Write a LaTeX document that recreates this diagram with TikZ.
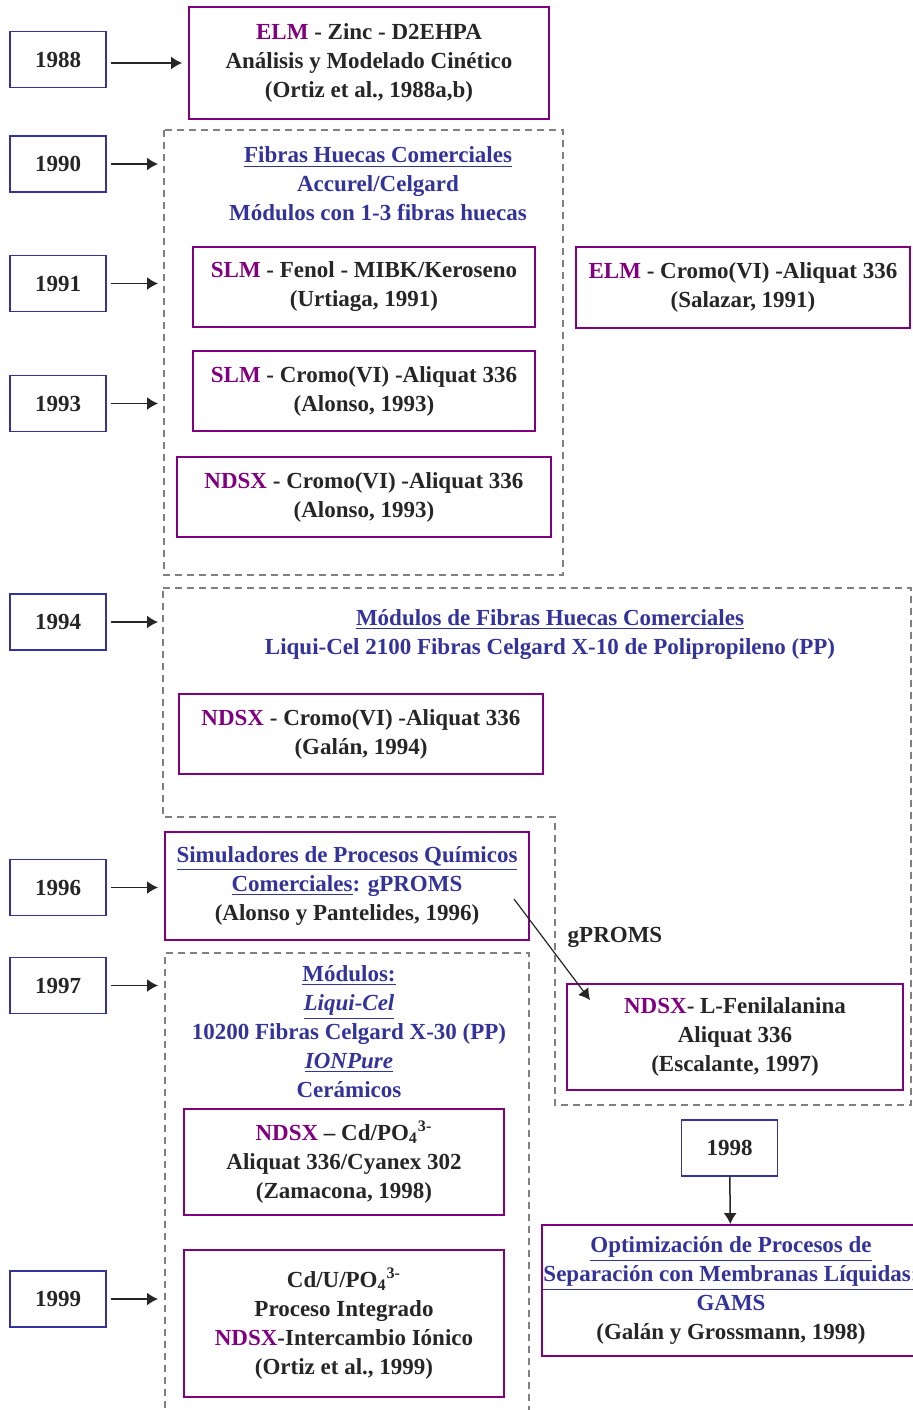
\documentclass[tikz,border=0pt]{standalone}
\usepackage{fontspec}
\setmainfont{Liberation Serif}
\usetikzlibrary{arrows.meta}
\definecolor{yearblue}{RGB}{51,51,153}
\definecolor{elmpurple}{RGB}{128,0,128}
\definecolor{darktext}{RGB}{38,38,38}
\definecolor{dashgray}{RGB}{128,128,128}
\newcommand{\tech}[1]{\textcolor{elmpurple}{#1}}

\begin{document}
\begin{tikzpicture}[x=0.5pt,y=-0.5pt,
    every node/.style={font=\bfseries\fontsize{11.5}{14.5}\selectfont,text=darktext,align=center},
    year/.style={draw=yearblue,line width=0.9pt,minimum width=48pt,minimum height=28pt,inner sep=0pt},
    work/.style={draw=elmpurple,line width=0.9pt,inner sep=0pt},
    note/.style={text=yearblue},
    group/.style={draw=dashgray,line width=0.7pt,dash pattern=on 3.5pt off 2.5pt},
    link/.style={draw=darktext,line width=0.75pt,-{Latex[length=5.5pt,width=6.5pt]},shorten <=2pt}]
    \useasboundingbox (0,0) rectangle (912,1410);
    \draw[group] (164,130) rectangle (563,575);
    \draw[group] (163,588) -- (911,588) -- (911,1105) -- (555,1105)
      -- (555,817) -- (163,817) -- cycle;
    \draw[group] (165,1420) -- (165,953) -- (529,953) -- (529,1420);
    \node[year] (y88) at (58,59.5) {1988};
    \node[year] (y90) at (58,164) {1990};
    \node[year] (y91) at (58,283.5) {1991};
    \node[year] (y93) at (58,403.5) {1993};
    \node[year] (y94) at (58,622) {1994};
    \node[year] (y96) at (58,887.5) {1996};
    \node[year] (y97) at (58,985.5) {1997};
    \node[year] (y99) at (58,1299) {1999};
    \node[year] (y98) at (729.5,1148) {1998};
    \node[work,minimum width=180pt,minimum height=56pt] (elmzinc) at (369,63)
      {\tech{ELM} - Zinc - D2EHPA\\Análisis y Modelado Cinético\\(Ortiz et al., 1988a,b)};
    \node[note] (fibras) at (378,184)
      {\underline{Fibras Huecas Comerciales}\\Accurel/Celgard\\Módulos con 1-3 fibras huecas};
    \node[work,minimum width=171pt,minimum height=40pt] (slmfenol) at (364,287)
      {\tech{SLM} - Fenol - MIBK/Keroseno\\(Urtiaga, 1991)};
    \node[work,minimum width=167pt,minimum height=40.5pt] (elmcromo) at (743,287.5)
      {\tech{ELM} - Cromo(VI) -Aliquat 336\\(Salazar, 1991)};
    \node[work,minimum width=171pt,minimum height=40pt] (slmcromo) at (364,391)
      {\tech{SLM} - Cromo(VI) -Aliquat 336\\(Alonso, 1993)};
    \node[work,minimum width=187pt,minimum height=40pt] (ndsxalonso) at (364,497)
      {\tech{NDSX} - Cromo(VI) -Aliquat 336\\(Alonso, 1993)};
    \node[note] (modfibras) at (550,634.5)
      {\underline{Módulos de Fibras Huecas Comerciales}\\Liqui-Cel 2100 Fibras Celgard X-10 de Polipropileno (PP)};
    \node[work,minimum width=182pt,minimum height=40pt] (ndsxgalan) at (361,734)
      {\tech{NDSX} - Cromo(VI) -Aliquat 336\\(Galán, 1994)};
    \node[work,minimum width=182pt,minimum height=54pt] (simul) at (347,886)
      {\textcolor{yearblue}{\underline{Simuladores de Procesos Químicos}}\\
       \textcolor{yearblue}{\underline{Comerciales}: gPROMS}\\(Alonso y Pantelides, 1996)};
    \node (gproms) at (615,937) {gPROMS};
    \node[work,minimum width=168pt,minimum height=53pt] (ndsxfenil) at (735,1037)
      {\tech{NDSX}- L-Fenilalanina\\Aliquat 336\\(Escalante, 1997)};
    \node[note] (modulos) at (349,1031.5)
      {\underline{Módulos:}\\\textit{\underline{Liqui-Cel}}\\10200 Fibras Celgard X-30 (PP)\\
       \textit{\underline{IONPure}}\\Cerámicos};
    \node[work,minimum width=160pt,minimum height=53pt] (ndsxcd) at (344,1162)
      {\tech{NDSX} – Cd/PO\textsubscript{4}\textsuperscript{3-}\\Aliquat 336/Cyanex 302\\(Zamacona, 1998)};
    \node[work,minimum width=160pt,minimum height=73.5pt] (integrado) at (344,1323.5)
      {Cd/U/PO\textsubscript{4}\textsuperscript{3-}\\Proceso Integrado\\\tech{NDSX}-Intercambio Iónico\\(Ortiz et al., 1999)};
    \node[work,minimum width=189pt,minimum height=65.5pt] (optim) at (731,1290.5)
      {\textcolor{yearblue}{\underline{Optimización de Procesos de}}\\
       \textcolor{yearblue}{\underline{Separación con Membranas Líquidas:}}\\
       \textcolor{yearblue}{GAMS}\\(Galán y Grossmann, 1998)};
    \coordinate (g90) at (158,164);
    \coordinate (g91) at (158,283.5);
    \coordinate (g93) at (158,403.5);
    \coordinate (g94) at (158,622);
    \coordinate (g96) at (158,887.5);
    \coordinate (g97) at (158,985.5);
    \coordinate (g99) at (158,1299);
    \coordinate (gstart) at (514,899);
    \coordinate (gend) at (590,1000);
    \draw[link,shorten >=3pt] (y88.east |- elmzinc.west) -- (elmzinc.west);
    \draw[link] (y90) -- (g90);
    \draw[link] (y91) -- (g91);
    \draw[link] (y93) -- (g93);
    \draw[link] (y94) -- (g94);
    \draw[link] (y96) -- (g96);
    \draw[link] (y97) -- (g97);
    \draw[link] (y99) -- (g99);
    \draw[link,line width=0.6pt,shorten <=0pt] (gstart) -- (gend);
    \draw[link,shorten <=0pt] (y98) -- (optim);
\end{tikzpicture}
\end{document}
